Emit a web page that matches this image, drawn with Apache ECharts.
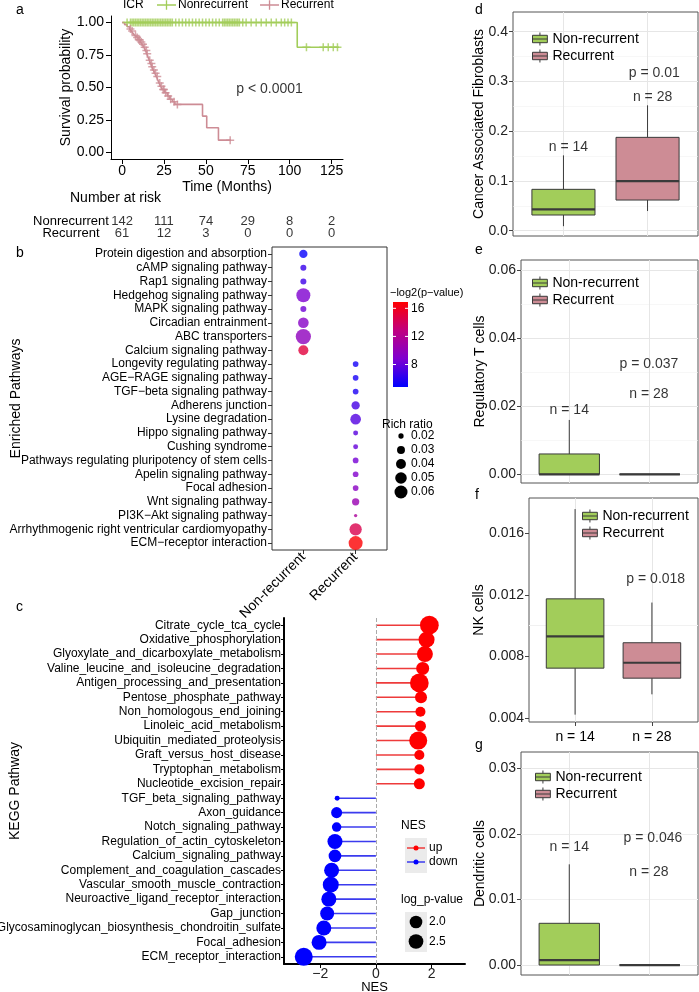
<!DOCTYPE html>
<html>
<head>
<meta charset="utf-8">
<script src="https://cdn.jsdelivr.net/npm/echarts@6/dist/echarts.min.js"></script>
<style>
  html, body { margin: 0; padding: 0; background: #fff; }
  #chart { width: 699px; height: 992px; }
</style>
</head>
<body>
<div id="chart"></div>
<script>
// ---- panel a: Kaplan-Meier curves (time in months, survival probability)
var kmNonTimes = [0, 104.5, 129.5];
var kmNonSurv = [1, 0.81, 0.81];
var kmRecTimes = [0, 1.5, 3, 4.5, 5.5, 6.5, 7.5, 8.5, 9.5, 11, 12, 13, 14, 14.8, 15.5, 16.2, 17, 17.8, 18.6, 19.5,
  20.5, 21.3, 22, 23, 24, 25.5, 27, 28.5, 30, 31.5, 48, 50.5, 57.5, 65];
var kmRecSurv = [1, 0.984, 0.967, 0.95, 0.934, 0.918, 0.9, 0.885, 0.868, 0.85, 0.833, 0.81, 0.785, 0.76, 0.735, 0.71,
  0.685, 0.66, 0.635, 0.61, 0.585, 0.56, 0.535, 0.51, 0.485, 0.46, 0.435, 0.41, 0.39, 0.37, 0.28, 0.19, 0.095, 0.095];
var censorNon = [3, 5, 6, 7, 8, 9, 10, 11, 12, 13, 14, 15, 16, 17, 18, 19, 20, 21, 22, 23, 24, 25, 26, 27, 28, 29, 30,
  32, 34, 36, 38, 40, 42, 44, 46, 48, 50, 52, 54, 56, 58, 60, 61, 62, 63, 64, 65, 66, 67, 68, 69, 70, 72, 74, 77, 80,
  83, 86, 89, 92, 95, 97, 99, 101, 110, 120, 123, 126, 128.5];
var censorRec = [5, 6, 8, 9, 10, 10.5, 11.5, 12.5, 13.5, 14.5, 15, 16.5, 17.5, 18, 19, 20, 21, 22.5, 23.5, 24.5, 25,
  26, 27.5, 29, 31, 33, 64.5];
var riskTimes = [0, 25, 50, 75, 100, 125];
var riskNon = [142, 111, 74, 29, 8, 2];
var riskRec = [61, 12, 3, 0, 0, 0];

// ---- panel b: enriched pathways
var enrichGroups = ['Non-recurrent', 'Recurrent'];
var enrichPathways = ['Protein digestion and absorption', 'cAMP signaling pathway', 'Rap1 signaling pathway',
  'Hedgehog signaling pathway', 'MAPK signaling pathway', 'Circadian entrainment', 'ABC transporters',
  'Calcium signaling pathway', 'Longevity regulating pathway', 'AGE\u2212RAGE signaling pathway',
  'TGF\u2212beta signaling pathway', 'Adherens junction', 'Lysine degradation', 'Hippo signaling pathway',
  'Cushing syndrome', 'Pathways regulating pluripotency of stem cells', 'Apelin signaling pathway',
  'Focal adhesion', 'Wnt signaling pathway', 'PI3K\u2212Akt signaling pathway',
  'Arrhythmogenic right ventricular cardiomyopathy', 'ECM\u2212receptor interaction'];
var enrichGroup = [1, 1, 1, 1, 1, 1, 1, 1, 2, 2, 2, 2, 2, 2, 2, 2, 2, 2, 2, 2, 2, 2];
var enrichRatio = [0.0316, 0.0223, 0.0223, 0.0677, 0.0223, 0.0444, 0.078, 0.0404, 0.0213, 0.0213, 0.0213, 0.0316,
  0.0444, 0.019, 0.019, 0.0213, 0.0213, 0.0213, 0.0271, 0.0152, 0.0549, 0.0677];
var enrichLog2P = [5.0, 6.5, 6.8, 8.8, 8.3, 9.3, 9.8, 15.0, 5.4, 5.5, 5.7, 7.0, 7.4, 7.6, 8.0, 8.5, 9.0, 9.5, 10.4,
  11.5, 14.5, 16.8];
var log2PTicks = [8, 12, 16];
var ratioTicks = [0.02, 0.03, 0.04, 0.05, 0.06];

// ---- panel c: KEGG GSEA lollipop
var keggPathways = ['Citrate_cycle_tca_cycle', 'Oxidative_phosphorylation', 'Glyoxylate_and_dicarboxylate_metabolism',
  'Valine_leucine_and_isoleucine_degradation', 'Antigen_processing_and_presentation', 'Pentose_phosphate_pathway',
  'Non_homologous_end_joining', 'Linoleic_acid_metabolism', 'Ubiquitin_mediated_proteolysis',
  'Graft_versus_host_disease', 'Tryptophan_metabolism', 'Nucleotide_excision_repair', 'TGF_beta_signaling_pathway',
  'Axon_guidance', 'Notch_signaling_pathway', 'Regulation_of_actin_cytoskeleton', 'Calcium_signaling_pathway',
  'Complement_and_coagulation_cascades', 'Vascular_smooth_muscle_contraction',
  'Neuroactive_ligand_receptor_interaction', 'Gap_junction', 'Glycosaminoglycan_biosynthesis_chondroitin_sulfate',
  'Focal_adhesion', 'ECM_receptor_interaction'];
var keggNES = [1.92, 1.82, 1.76, 1.68, 1.56, 1.62, 1.6, 1.6, 1.52, 1.56, 1.56, 1.56, -1.39, -1.41, -1.41, -1.47,
  -1.47, -1.59, -1.62, -1.69, -1.75, -1.87, -2.04, -2.59];
var keggLogP = [3.72, 2.86, 2.86, 2.07, 3.72, 1.85, 1.45, 1.64, 3.48, 1.45, 1.45, 1.64, 0.76, 1.64, 1.35, 2.58, 2.0,
  2.58, 2.86, 2.58, 2.32, 2.58, 2.58, 3.48];
var nesTicks = [-2, 0, 2];
var logPTicks = [2.0, 2.5];

// ---- panels d-g: immune cell boxplots [low whisker, q1, median, q3, high whisker]
var boxGroups = ['Non-recurrent', 'Recurrent'];
var cafBox = [[0.009, 0.0315, 0.0429, 0.0831, 0.1514], [0.0395, 0.0616, 0.0998, 0.1876, 0.252]];
var tregBox = [[0, 0, 0, 0.00597, 0.01596], [0, 0, 0, 0, 0]];
var nkBox = [[0.00422, 0.00724, 0.0093, 0.01174, 0.01757], [0.00554, 0.00659, 0.00759, 0.00889, 0.0115]];
var dcBox = [[0, 0, 0.00076, 0.00636, 0.01535], [0, 0, 0, 0, 0]];
var cafNotes = [[1.06, 0.1688, 'n = 14'], [2.06, 0.2693, 'n = 28'], [2.08, 0.3162, 'p = 0.01']];
var tregNotes = [[1.0, 0.0189, 'n = 14'], [1.99, 0.0236, 'n = 28'], [1.99, 0.0324, 'p = 0.037']];
var nkNotes = [[2.05, 0.013, 'p = 0.018']];
var dcNotes = [[1.0, 0.01795, 'n = 14'], [1.99, 0.01423, 'n = 28'], [2.04, 0.01932, 'p = 0.046']];
var nkAxisLabels = ['n = 14', 'n = 28'];
var cafTicks = [0, 0.1, 0.2, 0.3, 0.4];
var tregTicks = [0, 0.02, 0.04, 0.06];
var nkTicks = [0.004, 0.008, 0.012, 0.016];
var dcTicks = [0, 0.01, 0.02, 0.03];

var FONT = "'Liberation Sans', Arial, sans-serif";
var GREEN = '#A2CD5A';
var PINK = '#CD8C95';
var RED = '#FF0000';
var BLUE = '#0000FF';
var CB_COLORS = ['#0000FF', '#7F00D0', '#C0007F', '#FF0000'];
var CB_MIN = 4.8, CB_MAX = 16.9;
var PLUS = 'path://M0,3.25H8V4.75H0Z M3.25,0H4.75V8H3.25Z';
var KM_KEY = 'path://M0,4.3H20V5.7H0Z M9.3,0H10.7V10H9.3Z';
var BOX_KEY = 'path://M0,3H16V11H0Z M0,7H16 M8,0V3 M8,11V14';

function survAt(times, surv, t) {
  var s = surv[0];
  for (var i = 0; i < times.length; i++) { if (times[i] <= t) s = surv[i]; }
  return s;
}
function zip(a, b) { return a.map(function (v, i) { return [v, b[i]]; }); }
function richSize(r) { return Math.sqrt(Math.max(6, 28 + 3525 * (r - 0.02))); }
function logPSize(v) { return Math.sqrt(Math.max(16, 161 + 110 * (v - 2))); }
function minus(v) { return String(v).replace('-', '\u2212'); }

var grids = [
  {left: 111, top: 16, width: 232, height: 143},   // a
  {left: 111, top: 216, width: 232, height: 23},   // risk table
  {left: 272, top: 247, width: 115, height: 303, show: true, borderColor: '#333', borderWidth: 1}, // b
  {left: 284, top: 618, width: 181, height: 346},  // c
  {left: 513, top: 12, width: 185, height: 224},   // d
  {left: 521, top: 260, width: 177, height: 223},  // e
  {left: 529, top: 498, width: 169, height: 224},  // f
  {left: 521, top: 752, width: 177, height: 223}   // g
];
grids.forEach(function (g, i) {
  g.outerBoundsMode = 'none';
  g.containLabel = false;
  if (i >= 4) { g.show = true; g.borderColor = '#555'; g.borderWidth = 1; }
});

var xAxes = [];
var yAxes = [];
var series = [];
var legends = [];

// ---------- panel a
xAxes.push({
  type: 'value', gridIndex: 0, min: -6.6, max: 131.8,
  name: 'Time (Months)', nameLocation: 'middle', nameGap: 21, nameMoveOverlap: false,
  nameTextStyle: {fontSize: 14, color: '#000'},
  axisLine: {show: true, onZero: false, lineStyle: {color: '#000', width: 1}},
  axisTick: {show: true, customValues: riskTimes, length: 5, lineStyle: {color: '#000'}},
  axisLabel: {customValues: riskTimes, fontSize: 14, color: '#000', margin: 5},
  splitLine: {show: false}
});
yAxes.push({
  type: 'value', gridIndex: 0, min: -0.05, max: 1.05,
  name: 'Survival probability', nameLocation: 'middle', nameGap: 38, nameMoveOverlap: false,
  nameTextStyle: {fontSize: 14, color: '#000'},
  axisLine: {show: true, onZero: false, lineStyle: {color: '#000', width: 1}},
  axisTick: {show: true, customValues: [0, 0.25, 0.5, 0.75, 1], length: 5, lineStyle: {color: '#000'}},
  axisLabel: {customValues: [0, 0.25, 0.5, 0.75, 1], fontSize: 14, color: '#000', margin: 7,
    formatter: function (v) { return v.toFixed(2); }},
  splitLine: {show: false}
});
series.push({
  type: 'line', name: 'Nonrecurrent', xAxisIndex: 0, yAxisIndex: 0, step: 'end', symbol: 'none',
  data: zip(kmNonTimes, kmNonSurv), lineStyle: {color: GREEN, width: 1.6}, itemStyle: {color: GREEN}, z: 3
});
series.push({
  type: 'line', name: 'Recurrent_km', xAxisIndex: 0, yAxisIndex: 0, step: 'end', symbol: 'none',
  data: zip(kmRecTimes, kmRecSurv), lineStyle: {color: PINK, width: 1.6}, itemStyle: {color: PINK}, z: 3
});
series.push({
  type: 'scatter', name: 'Nonrecurrent censored', xAxisIndex: 0, yAxisIndex: 0, symbol: PLUS, symbolSize: 8,
  data: censorNon.map(function (t) { return [t, survAt(kmNonTimes, kmNonSurv, t)]; }),
  itemStyle: {color: GREEN}, z: 4
});
series.push({
  type: 'scatter', name: 'Recurrent censored', xAxisIndex: 0, yAxisIndex: 0, symbol: PLUS, symbolSize: 8,
  data: censorRec.map(function (t) { return [t, survAt(kmRecTimes, kmRecSurv, t)]; }),
  itemStyle: {color: PINK}, z: 4
});
series.push({
  type: 'scatter', name: 'km p', xAxisIndex: 0, yAxisIndex: 0, symbolSize: 0,
  data: [[88, 0.485, 'p < 0.0001']],
  label: {show: true, position: 'inside', fontSize: 14, color: '#000', formatter: function (p) { return p.value[2]; }}
});
legends.push({
  left: 157, top: -1, padding: 0, itemWidth: 19, itemHeight: 10, itemGap: 12, icon: KM_KEY,
  data: ['Nonrecurrent', 'Recurrent_km'],
  formatter: function (n) { return n.replace('_km', ''); },
  textStyle: {fontSize: 12, color: '#000', padding: [0, 0, 0, -3]}
});

// ---------- risk table
xAxes.push({type: 'value', gridIndex: 1, min: -6.6, max: 131.8, show: false});
yAxes.push({
  type: 'category', gridIndex: 1, inverse: true, data: ['Nonrecurrent', 'Recurrent'],
  axisLine: {show: false}, axisTick: {show: false},
  axisLabel: {interval: 0, hideOverlap: false, fontSize: 13, color: '#000', align: 'center', margin: 40}
});
[['Nonrecurrent', riskNon], ['Recurrent', riskRec]].forEach(function (row) {
  series.push({
    type: 'scatter', name: 'risk ' + row[0], xAxisIndex: 1, yAxisIndex: 1, symbolSize: 0,
    data: riskTimes.map(function (t, i) { return [t, row[0], row[1][i]]; }),
    label: {show: true, position: 'inside', fontSize: 13, color: '#000', formatter: function (p) { return p.value[2]; }}
  });
});

// ---------- panel b
xAxes.push({
  type: 'value', gridIndex: 2, min: 0.4, max: 2.6,
  axisLine: {show: false},
  axisTick: {show: true, customValues: [1, 2], length: 4, lineStyle: {color: '#333'}},
  axisLabel: {customValues: [1, 2], rotate: 45, fontSize: 14, color: '#000', margin: 5,
    formatter: function (v) { return enrichGroups[Math.round(v) - 1]; }},
  splitLine: {show: false}
});
yAxes.push({
  type: 'category', gridIndex: 2, inverse: true, data: enrichPathways,
  name: 'Enriched Pathways', nameLocation: 'middle', nameGap: 249, nameMoveOverlap: false,
  nameTextStyle: {fontSize: 14, color: '#000'},
  axisLine: {show: false},
  axisTick: {show: true, alignWithLabel: true, interval: 0, length: 4, lineStyle: {color: '#333'}},
  axisLabel: {interval: 0, fontSize: 12, color: '#000', margin: 5}
});
var bIndex = series.length;
series.push({
  type: 'scatter', name: 'enrichment', xAxisIndex: 2, yAxisIndex: 2,
  data: enrichPathways.map(function (p, i) { return [enrichGroup[i], p, enrichRatio[i], enrichLog2P[i]]; }),
  encode: {x: 0, y: 1},
  symbolSize: function (v) { return richSize(v[2]); }
});

// ---------- panel c
xAxes.push({
  type: 'value', gridIndex: 3, min: -3.3, max: 3.2,
  name: 'NES', nameLocation: 'middle', nameGap: 17, nameMoveOverlap: false,
  nameTextStyle: {fontSize: 13, color: '#000'},
  axisLine: {show: true, onZero: false, lineStyle: {color: '#000', width: 2}},
  axisTick: {show: true, customValues: nesTicks, length: 4, lineStyle: {color: '#000'}},
  axisLabel: {customValues: nesTicks, fontSize: 14, color: '#222', margin: 3, formatter: minus},
  splitLine: {show: false}
});
yAxes.push({
  type: 'category', gridIndex: 3, inverse: true, data: keggPathways,
  name: 'KEGG Pathway', nameLocation: 'middle', nameGap: 262, nameMoveOverlap: false,
  nameTextStyle: {fontSize: 14, color: '#000'},
  axisLine: {show: true, onZero: false, lineStyle: {color: '#000', width: 2}},
  axisTick: {show: true, alignWithLabel: true, interval: 0, length: 3, lineStyle: {color: '#000'}},
  axisLabel: {interval: 0, fontSize: 12, color: '#000', margin: 3}
});
series.push({
  type: 'bar', name: 'NES segment', xAxisIndex: 3, yAxisIndex: 3, barWidth: 1.6,
  data: keggNES.map(function (v) { return {value: v, itemStyle: {color: v > 0 ? '#EE3B3B' : '#3B3BEE'}}; }),
  markLine: {
    silent: true, symbol: ['none', 'none'], label: {show: false},
    lineStyle: {type: 'dashed', color: '#aaa', width: 1}, data: [{xAxis: 0}]
  },
  z: 2
});
series.push({
  type: 'scatter', name: 'NES point', xAxisIndex: 3, yAxisIndex: 3,
  data: keggNES.map(function (v, i) { return [v, keggPathways[i], keggLogP[i]]; }),
  encode: {x: 0, y: 1},
  symbolSize: function (v) { return logPSize(v[2]); },
  itemStyle: {color: function (p) { return p.value[0] > 0 ? RED : BLUE; }, opacity: 1},
  z: 3
});

// ---------- panels d-g
function renderBox(params, api) {
  var x = api.value(0);
  var lo = api.coord([x, api.value(1)]);
  var q1 = api.coord([x, api.value(2)]);
  var med = api.coord([x, api.value(3)]);
  var q3 = api.coord([x, api.value(4)]);
  var hi = api.coord([x, api.value(5)]);
  var half = api.size([0.75, 0])[0] / 2;
  var stroke = '#3a3a3a';
  return {
    type: 'group',
    children: [
      {type: 'line', shape: {x1: lo[0], y1: lo[1], x2: q1[0], y2: q1[1]}, style: {stroke: stroke, lineWidth: 1}},
      {type: 'line', shape: {x1: q3[0], y1: q3[1], x2: hi[0], y2: hi[1]}, style: {stroke: stroke, lineWidth: 1}},
      {type: 'rect', shape: {x: q3[0] - half, y: q3[1], width: half * 2, height: q1[1] - q3[1]},
        style: {fill: api.visual('color'), stroke: stroke, lineWidth: 1}},
      {type: 'line', shape: {x1: med[0] - half, y1: med[1], x2: med[0] + half, y2: med[1]},
        style: {stroke: stroke, lineWidth: 2.2}}
    ]
  };
}

var boxPanels = [
  {box: cafBox, notes: cafNotes, ticks: cafTicks, digits: 1, range: [-0.0107, 0.4396], title: 'Cancer Associated Fibroblasts', gap: 27, legend: [532, 32]},
  {box: tregBox, notes: tregNotes, ticks: tregTicks, digits: 2, range: [-0.00256, 0.06293], title: 'Regulatory T cells', gap: 34, legend: [532, 276]},
  {box: nkBox, notes: nkNotes, ticks: nkTicks, digits: 3, range: [0.003743, 0.01829], title: 'NK cells', gap: 43, legend: [582, 509], xLabels: nkAxisLabels},
  {box: dcBox, notes: dcNotes, ticks: dcTicks, digits: 2, range: [-0.00152, 0.03247], title: 'Dendritic cells', gap: 34, legend: [535, 770]}
];

boxPanels.forEach(function (pn, k) {
  var gi = 4 + k;
  var step = pn.ticks[1] - pn.ticks[0];
  var minor = [];
  pn.ticks.concat([pn.ticks[pn.ticks.length - 1] + step]).forEach(function (t) {
    var m = t - step / 2;
    if (m > pn.range[0] && m < pn.range[1]) minor.push(m);
  });
  xAxes.push({
    type: 'value', gridIndex: gi, min: 0.4, max: 2.6,
    axisLine: {show: false},
    axisTick: {show: true, customValues: [1, 2], length: 4, lineStyle: {color: '#444'}},
    axisLabel: {show: !!pn.xLabels, customValues: [1, 2], fontSize: 14, color: '#000', margin: 8,
      formatter: function (v) { return pn.xLabels ? pn.xLabels[Math.round(v) - 1] : ''; }},
    splitLine: {show: false}
  });
  yAxes.push({
    type: 'value', gridIndex: gi, min: pn.range[0], max: pn.range[1],
    name: pn.title, nameLocation: 'middle', nameGap: pn.gap, nameMoveOverlap: false,
    nameTextStyle: {fontSize: 14, color: '#000'},
    axisLine: {show: false},
    axisTick: {show: true, customValues: pn.ticks, length: 4, lineStyle: {color: '#444'}},
    axisLabel: {customValues: pn.ticks, fontSize: 14, color: '#222', margin: 5,
      formatter: function (v) { return v.toFixed(pn.digits); }},
    splitLine: {show: false}
  });
  var axisIdx = xAxes.length - 1;
  // background grid lines
  series.push({
    type: 'line', name: 'grid ' + k, xAxisIndex: axisIdx, yAxisIndex: axisIdx, data: [],
    markLine: {
      silent: true, z: 1, symbol: ['none', 'none'], label: {show: false},
      data: pn.ticks.map(function (t) { return {yAxis: t, lineStyle: {color: '#E6E6E6', width: 1, type: 'solid'}}; })
        .concat(minor.map(function (t) { return {yAxis: t, lineStyle: {color: '#F2F2F2', width: 0.6, type: 'solid'}}; }))
        .concat([1, 2].map(function (t) { return {xAxis: t, lineStyle: {color: '#E6E6E6', width: 1, type: 'solid'}}; }))
    }
  });
  boxGroups.forEach(function (g, gIdx) {
    series.push({
      type: 'custom', name: g, xAxisIndex: axisIdx, yAxisIndex: axisIdx,
      renderItem: renderBox,
      itemStyle: {color: gIdx === 0 ? GREEN : PINK, borderColor: '#3a3a3a', borderWidth: 1},
      encode: {x: 0, y: [1, 2, 3, 4, 5]},
      data: [[gIdx + 1].concat(pn.box[gIdx])],
      z: 3
    });
  });
  series.push({
    type: 'scatter', name: 'notes ' + k, xAxisIndex: axisIdx, yAxisIndex: axisIdx, symbolSize: 0,
    data: pn.notes,
    label: {show: true, position: 'inside', fontSize: 14, color: '#000', formatter: function (p) { return p.value[2]; }},
    z: 4
  });
  legends.push({
    orient: 'vertical', left: pn.legend[0], top: pn.legend[1], padding: 0,
    itemWidth: 15, itemHeight: 13, itemGap: 3, icon: BOX_KEY,
    itemStyle: {borderColor: '#3a3a3a', borderWidth: 1},
    data: boxGroups,
    textStyle: {fontSize: 14, color: '#000'}
  });
});

// ---------- legends drawn as graphics
var graphics = [];
function txt(x, y, s, size, align) {
  graphics.push({type: 'text', x: x, y: y, silent: true,
    style: {text: s, fontSize: size, fontFamily: FONT, fill: '#000', align: align || 'left', verticalAlign: 'middle'}});
}
[['a', 16, 10], ['b', 16, 253], ['c', 16, 607], ['d', 475, 10], ['e', 475, 250], ['f', 475, 495], ['g', 475, 745]]
  .forEach(function (l) { txt(l[1], l[2], l[0], 14); });
txt(123, 5, 'ICR', 12);
txt(70, 198, 'Number at risk', 14);

// panel b colour bar
var cbTop = 302, cbH = 85, cbX = 393, cbW = 15;
txt(390, 293, '\u2212log2(p\u2212value)', 11);
graphics.push({type: 'rect', silent: true, shape: {x: cbX, y: cbTop, width: cbW, height: cbH},
  style: {fill: {type: 'linear', x: 0, y: 1, x2: 0, y2: 0, colorStops: CB_COLORS.map(function (c, i) {
    return {offset: i / (CB_COLORS.length - 1), color: c}; })}}});
log2PTicks.forEach(function (t) {
  var y = cbTop + cbH - (t - CB_MIN) / (CB_MAX - CB_MIN) * cbH;
  graphics.push({type: 'line', silent: true, shape: {x1: cbX, y1: y, x2: cbX + 3, y2: y}, style: {stroke: '#fff', lineWidth: 1}});
  graphics.push({type: 'line', silent: true, shape: {x1: cbX + cbW - 3, y1: y, x2: cbX + cbW, y2: y}, style: {stroke: '#fff', lineWidth: 1}});
  txt(cbX + cbW + 3, y, String(t), 12);
});
txt(382, 425, 'Rich ratio', 12);
ratioTicks.forEach(function (r, i) {
  var y = 436 + 14 * i;
  graphics.push({type: 'circle', silent: true, shape: {cx: 401, cy: y, r: richSize(r) / 2}, style: {fill: '#000'}});
  txt(411, y, r.toFixed(2), 12);
});

// panel c legends
txt(401, 826, 'NES', 12);
graphics.push({type: 'rect', silent: true, shape: {x: 405, y: 838, width: 22, height: 35}, style: {fill: '#EBEBEB'}});
[['up', RED, '#EE3B3B', 848], ['down', BLUE, '#3B3BEE', 862]].forEach(function (k) {
  graphics.push({type: 'line', silent: true, shape: {x1: 407, y1: k[3], x2: 425, y2: k[3]}, style: {stroke: k[2], lineWidth: 1.5}});
  graphics.push({type: 'circle', silent: true, shape: {cx: 416, cy: k[3], r: 2.5}, style: {fill: k[1]}});
  txt(429, k[3], k[0], 12);
});
txt(401, 900, 'log_p-value', 12);
graphics.push({type: 'rect', silent: true, shape: {x: 405, y: 912, width: 22, height: 40}, style: {fill: '#EBEBEB'}});
logPTicks.forEach(function (v, i) {
  var y = 922 + 19.5 * i;
  graphics.push({type: 'circle', silent: true, shape: {cx: 416, cy: y, r: logPSize(v) / 2}, style: {fill: '#000'}});
  txt(429, y, v.toFixed(1), 12);
});

var chart = echarts.init(document.getElementById('chart'), null, {renderer: 'canvas', width: 699, height: 992});
chart.setOption({
  animation: false,
  backgroundColor: '#fff',
  textStyle: {fontFamily: FONT, color: '#000'},
  grid: grids,
  xAxis: xAxes,
  yAxis: yAxes,
  legend: legends,
  visualMap: [{
    type: 'continuous', show: false, seriesIndex: bIndex, dimension: 3,
    min: CB_MIN, max: CB_MAX, inRange: {color: CB_COLORS}
  }],
  series: series,
  graphic: graphics
});
</script>
</body>
</html>
